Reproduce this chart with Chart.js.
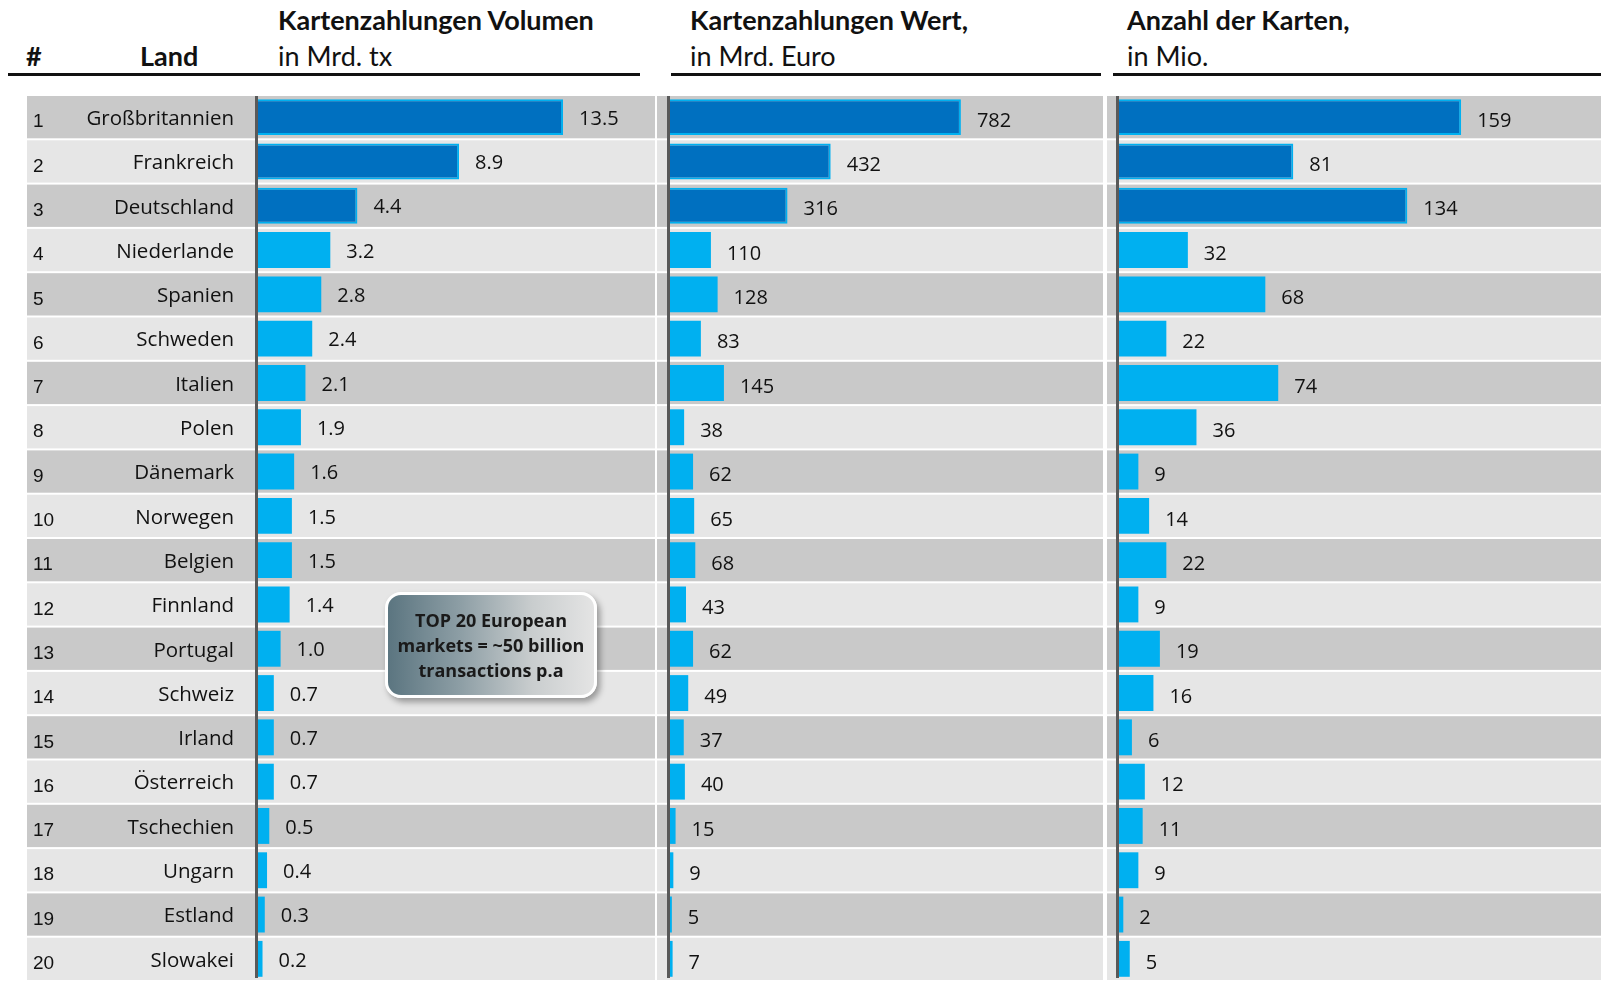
<!DOCTYPE html>
<html lang="de">
<head>
  <meta charset="UTF-8" />
  <title>Kartenzahlungen Europa</title>
  <script src="https://cdn.jsdelivr.net/npm/chart.js"></script>
  <style>
    body {
      margin: 0;
      background: #fff;
      font-family: "Open Sans", sans-serif;
    }
    #wrap {
      position: relative;
      width: 1601px;
      height: 981px;
      overflow: hidden;
    }
    .hd {
      position: absolute;
      font-family: Lato, sans-serif;
      font-size: 27px;
      line-height: 36px;
      color: #111;
      white-space: nowrap;
    }
    .hd b { font-weight: 700; }
    .line {
      position: absolute;
      height: 3px;
      background: #111;
      top: 73px;
    }
    .panel {
      position: absolute;
      top: 95px;
      height: 886px;
    }
    #note {
      position: absolute;
      left: 385px;
      top: 592px;
      width: 206px;
      height: 100px;
      border: 3px solid #fff;
      border-radius: 16px;
      background: linear-gradient(to right, #5b7580 0%, #8d9ea5 35%, #c9cdce 70%, #e4e4e4 100%);
      box-shadow: 3px 4px 6px rgba(0,0,0,0.35);
      font-family: "Open Sans", sans-serif;
      font-weight: 700;
      font-size: 18px;
      line-height: 25px;
      color: #1a1a1a;
      text-align: center;
      display: flex;
      align-items: center;
      justify-content: center;
    }
  </style>
</head>
<body>
<div id="wrap">
  <div class="hd" style="left:26px; top:38px;"><b>#</b></div>
  <div class="hd" style="left:140px; top:38px;"><b>Land</b></div>
  <div class="hd" style="left:278px; top:2px;"><b>Kartenzahlungen Volumen</b><br>in Mrd. tx</div>
  <div class="hd" style="left:690px; top:2px;"><b>Kartenzahlungen Wert,</b><br>in Mrd. Euro</div>
  <div class="hd" style="left:1127px; top:2px;"><b>Anzahl der Karten,</b><br>in Mio.</div>
  <div class="line" style="left:8px; width:632px;"></div>
  <div class="line" style="left:671px; width:430px;"></div>
  <div class="line" style="left:1113px; width:488px;"></div>

  <div class="panel" style="left:27px; width:628px;"><canvas id="c1"></canvas></div>
  <div class="panel" style="left:657px; width:446px;"><canvas id="c2"></canvas></div>
  <div class="panel" style="left:1107px; width:494px;"><canvas id="c3"></canvas></div>

  <div id="note">TOP 20 European<br>markets = ~50 billion<br>transactions p.a</div>
</div>

<script>
  const laender = ['Großbritannien', 'Frankreich', 'Deutschland', 'Niederlande', 'Spanien',
    'Schweden', 'Italien', 'Polen', 'Dänemark', 'Norwegen', 'Belgien', 'Finnland',
    'Portugal', 'Schweiz', 'Irland', 'Österreich', 'Tschechien', 'Ungarn', 'Estland', 'Slowakei'];
  const rang = ['1', '2', '3', '4', '5', '6', '7', '8', '9', '10',
    '11', '12', '13', '14', '15', '16', '17', '18', '19', '20'];
  const volumen = [13.5, 8.9, 4.4, 3.2, 2.8, 2.4, 2.1, 1.9, 1.6, 1.5, 1.5, 1.4, 1.0, 0.7, 0.7, 0.7, 0.5, 0.4, 0.3, 0.2];
  const wert = [782, 432, 316, 110, 128, 83, 145, 38, 62, 65, 68, 43, 62, 49, 37, 40, 15, 9, 5, 7];
  const karten = [159, 81, 134, 32, 68, 22, 74, 36, 9, 14, 22, 9, 19, 16, 6, 12, 11, 9, 2, 5];

  const dunkelBlau = '#0070c0';
  const hellBlau = '#00b0f0';

  // Zeilenstreifen, Achse und Beschriftungen
  const tabelle = {
    id: 'tabelle',
    beforeDatasetsDraw(chart, args, opts) {
      const ctx = chart.ctx;
      const y = chart.scales.y;
      const step = y.getPixelForValue(1) - y.getPixelForValue(0);
      ctx.save();
      laender.forEach((l, i) => {
        const c = y.getPixelForValue(i);
        ctx.fillStyle = i % 2 === 0 ? '#c9c9c9' : '#e6e6e6';
        ctx.fillRect(0, c - step / 2 + 1, chart.width, step - 2);
      });
      ctx.fillStyle = '#595959';
      ctx.fillRect(chart.chartArea.left - 3, 1, 3, chart.chartArea.bottom - 4);

      if (opts.labels) {
        ctx.fillStyle = '#111';
        laender.forEach((l, i) => {
          const c = y.getPixelForValue(i);
          ctx.textBaseline = 'middle';
          ctx.font = '19px "Liberation Sans"';
          ctx.textAlign = 'left';
          ctx.fillText(rang[i], 6, c + 5);
          ctx.font = '20.5px "Open Sans"';
          ctx.textAlign = 'right';
          ctx.fillText(l, 207, c + 2);
        });
      }
      ctx.restore();
    },
    afterDatasetsDraw(chart, args, opts) {
      const ctx = chart.ctx;
      const meta = chart.getDatasetMeta(0);
      const data = chart.data.datasets[0].data;
      ctx.save();
      ctx.fillStyle = '#111';
      ctx.font = '20px "Open Sans"';
      ctx.textAlign = 'left';
      ctx.textBaseline = 'middle';
      meta.data.forEach((bar, i) => {
        const txt = opts.decimals ? data[i].toFixed(1) : String(data[i]);
        ctx.fillText(txt, bar.x + 16, bar.y + opts.dy);
      });
      ctx.restore();
    }
  };

  function balkenChart(id, werte, max, padLeft, mitLabels, decimals, dy) {
    return new Chart(document.getElementById(id), {
      type: 'bar',
      data: {
        labels: laender,
        datasets: [{
          data: werte,
          backgroundColor: werte.map((v, i) => i < 3 ? dunkelBlau : hellBlau),
          borderColor: hellBlau,
          borderWidth: werte.map((v, i) => i < 3 ? 2 : 0),
          barPercentage: 0.81,
          categoryPercentage: 1
        }]
      },
      options: {
        indexAxis: 'y',
        responsive: true,
        maintainAspectRatio: false,
        animation: false,
        layout: { padding: { left: padLeft, right: 0, top: 0, bottom: 0 } },
        scales: {
          x: { display: false, min: 0, max: max },
          y: { display: false }
        },
        plugins: {
          legend: { display: false },
          tooltip: { enabled: false },
          tabelle: { labels: mitLabels, decimals: decimals, dy: dy }
        }
      },
      plugins: [tabelle]
    });
  }

  balkenChart('c1', volumen, 17.57, 231, true, true, 2);
  balkenChart('c2', wert, 1164, 13, false, false, 4);
  balkenChart('c3', karten, 224, 12, false, false, 4);
</script>
</body>
</html>
